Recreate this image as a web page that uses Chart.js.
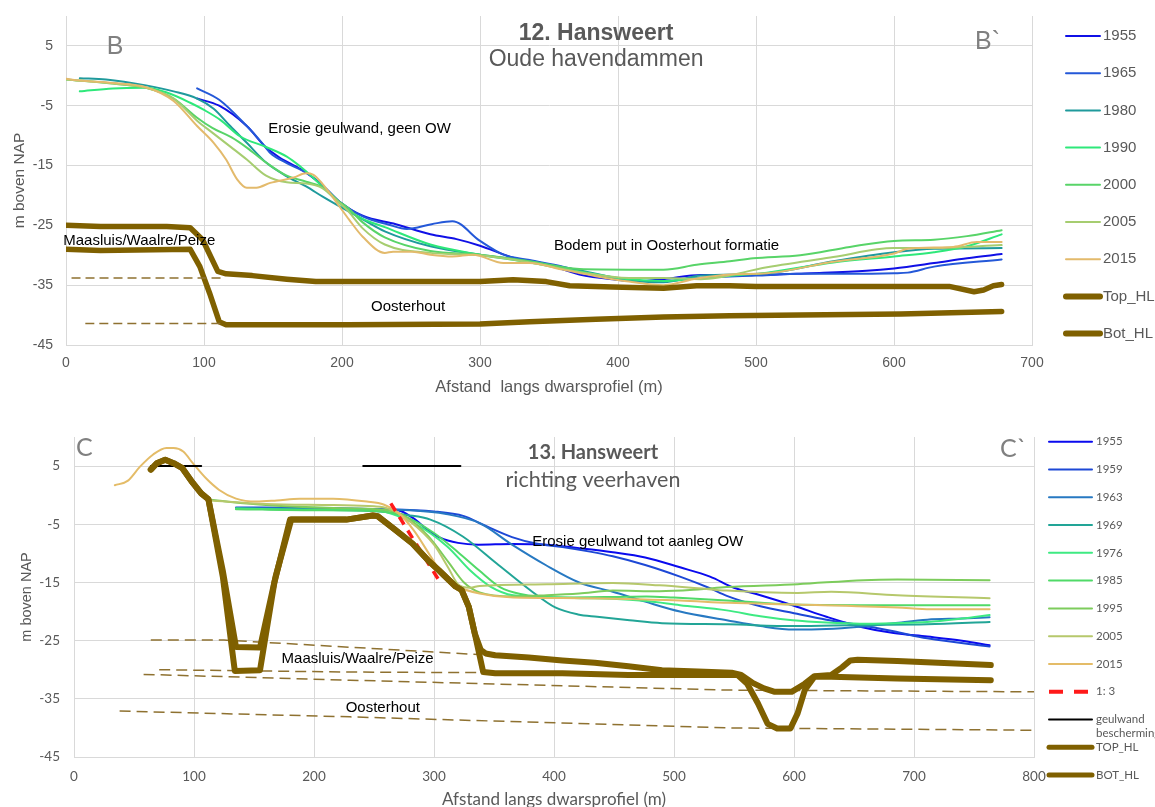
<!DOCTYPE html>
<html>
<head>
<meta charset="utf-8">
<script src="https://cdn.jsdelivr.net/npm/chart.js@4.4.1/dist/chart.umd.min.js"></script>
<style>
  html, body { margin: 0; padding: 0; background: #fff; }
  #wrap { position: relative; width: 1155px; height: 807px; overflow: hidden; }
  .panel { position: absolute; left: 0; width: 1155px; }
  #p1 { top: 0; height: 405px; }
  #p2 { top: 405px; height: 410px; }
  canvas { display: block; }
</style>
</head>
<body>
<div id="wrap">
  <div class="panel" id="p1"><canvas id="c1" width="1155" height="405"></canvas></div>
  <div class="panel" id="p2"><canvas id="c2" width="1155" height="410"></canvas></div>
</div>
<script>
// ---------- Profile 12: Hansweert, oude havendammen (afstand m, hoogte m NAP) ----------
const yTicks = [-45, -35, -25, -15, -5, 5];

const t1955 = [[95,-3.8],[111,-5],[131,-8.4],[145,-12],[155,-13.7],[170,-15.6],[184,-17.9],[198,-21],[215,-23.4],[239,-24.8],[264,-26.5],[283,-27.3],[300,-28.4],[324,-30.4],[348,-31.5],[372,-33.2],[396,-34],[416,-34.3],[433,-34],[460,-33.3],[500,-33.3],[540,-33.0],[580,-32.6],[600,-32.2],[629,-31.3],[653,-30.5],[678,-29.8]];
const t1965 = [[95,-2.1],[111,-4],[131,-8.4],[142,-11.2],[148,-12.9],[160,-14.6],[174,-16.2],[189,-19],[198,-21],[215,-23.5],[234,-24.9],[247,-25.6],[265,-24.8],[280,-24.3],[300,-27.6],[317,-29.9],[336,-30.8],[360,-31.9],[384,-33.3],[408,-34.3],[433,-34.3],[457,-33.8],[500,-33.4],[532,-33.1],[568,-33.1],[600,-33.0],[610,-32.9],[629,-31.9],[678,-30.7]];
const t1980 = [[10,-0.4],[29,-0.6],[58,-1.6],[78,-2.6],[95,-3.8],[107,-5.5],[119,-8.4],[131,-11.2],[145,-14.5],[160,-16.8],[174,-18.5],[186,-20.2],[198,-21.8],[215,-24],[231,-26],[264,-28.5],[300,-29.9],[336,-31],[372,-32.5],[408,-34.2],[433,-34.5],[460,-33.4],[508,-33],[556,-31],[600,-29.5],[629,-28.9],[678,-28.8]];
const t1990 = [[10,-2.6],[34,-2.1],[58,-2.0],[73,-2.8],[90,-4.5],[100,-5.7],[112,-7.4],[126,-10.1],[145,-11.9],[160,-13.5],[170,-15.2],[179,-17],[190,-19.5],[204,-22.4],[215,-23.9],[231,-25.3],[264,-28.2],[300,-29.9],[336,-31.2],[372,-32.7],[408,-34],[433,-34.3],[460,-33.8],[508,-32.9],[556,-31.2],[600,-30.2],[629,-29.5],[653,-28.5],[678,-26.5]];
const t2000 = [[0,-0.6],[34,-1.3],[58,-2],[78,-3.8],[95,-7],[106,-8.7],[120,-10.3],[131,-12],[145,-14.5],[160,-16.7],[174,-17.7],[186,-18.6],[198,-21],[204,-22],[215,-24.5],[231,-27],[264,-29.3],[300,-29.9],[336,-31],[372,-32.3],[408,-32.4],[433,-32.4],[457,-31.6],[481,-31],[498,-30.5],[532,-30],[568,-28.6],[600,-27.6],[629,-27.4],[653,-26.8],[678,-25.8]];
const t2005 = [[0,-0.6],[34,-1.3],[58,-2],[78,-3.8],[95,-7.5],[106,-9.5],[120,-12],[131,-14],[145,-16.7],[160,-17.8],[174,-18],[186,-18.8],[198,-21.2],[204,-22.5],[215,-25.5],[231,-28.2],[264,-29.6],[300,-30],[336,-31.2],[372,-32.8],[408,-33.8],[433,-33.8],[460,-34],[508,-32],[556,-30.3],[600,-28.8],[629,-28.8],[678,-28.3]];
const t2015 = [[0,-0.5],[10,-0.8],[34,-1.2],[58,-1.9],[78,-4.2],[95,-8.4],[107,-11.2],[116,-14],[124,-17.3],[131,-18.7],[138,-18.7],[148,-17.9],[165,-17],[174,-16.3],[179,-16.5],[186,-18.1],[198,-21.8],[205,-24],[215,-26.9],[231,-29.6],[237,-29.4],[251,-29.4],[264,-29.9],[280,-30.2],[295,-29.9],[317,-31.3],[336,-31.3],[360,-32.4],[384,-33.5],[408,-34.4],[433,-35],[457,-33.9],[481,-33.2],[508,-33],[556,-31.1],[600,-29.7],[610,-28.9],[643,-28.6],[660,-27.8],[678,-27.8]];
const tTopHL = [[0,-25],[25,-25.2],[73,-25.2],[90,-25.4],[99,-27.4],[110,-32.7],[116,-33.1],[135,-33.4],[160,-34],[181,-34.4],[204,-34.4],[300,-34.4],[324,-34.1],[348,-34.4],[365,-35.1],[396,-35.3],[433,-35.5],[457,-35.1],[481,-35.1],[500,-35.2],[600,-35.2],[640,-35.2],[658,-36.1],[665,-35.8],[672,-35.1],[678,-34.9]];
const tBotHL = [[0,-29],[25,-29.2],[90,-29],[97,-31.9],[104,-36.3],[111,-41.1],[116,-41.6],[204,-41.6],[300,-41.5],[336,-41.1],[384,-40.7],[433,-40.3],[481,-40.1],[532,-40],[605,-39.8],[678,-39.4]];
const tDashTop = [[4,-33.8],[113,-33.8]];
const tDashBot = [[14,-41.4],[112,-41.4]];

// ---------- Profile 13: Hansweert, richting veerhaven ----------
const b1955 = [[135,-2.2],[200,-2.3],[250,-2.4],[270,-2.6],[283,-4],[295,-6],[305,-7.3],[320,-8.2],[337,-8.5],[365,-8.4],[393,-8.5],[421,-9.1],[449,-9.8],[476,-10.7],[505,-12.4],[530,-14],[550,-15.9],[572,-17.2],[600,-19],[627,-20.9],[655,-22.6],[683,-23.7],[711,-24.3],[740,-25],[763,-25.8]];
const b1959 = [[135,-2.1],[200,-2.2],[250,-2.4],[300,-2.8],[325,-3.6],[340,-5],[365,-7.2],[385,-8.3],[407,-8.9],[430,-9.7],[449,-10.5],[476,-12],[505,-14],[530,-16],[544,-17.3],[572,-19.1],[600,-20.3],[627,-21.4],[655,-22.3],[683,-23.4],[711,-24.6],[763,-26]];
const b1963 = [[135,-2.2],[200,-2.3],[250,-2.4],[280,-2.6],[309,-3.2],[338,-4.8],[365,-8.5],[393,-12],[421,-15],[449,-16.6],[476,-18.3],[505,-20],[544,-21.5],[572,-22.5],[600,-23.1],[627,-23],[655,-22.6],[683,-22],[711,-21.4],[740,-21.2],[763,-21]];
const b1969 = [[135,-2.3],[200,-2.5],[255,-2.8],[277,-3.4],[297,-4.2],[324,-7.1],[352,-11.7],[380,-16.3],[401,-19.3],[420,-20.5],[436,-20.9],[463,-21.5],[490,-22],[545,-22.2],[600,-22.5],[655,-22.3],[711,-22.2],[763,-21.8]];
const b1976 = [[135,-2.3],[200,-2.5],[250,-2.6],[283,-4.8],[311,-8.8],[330,-12.9],[347,-15.7],[366,-17.2],[394,-17.5],[422,-17.7],[449,-17.8],[477,-18.2],[505,-18.9],[544,-19.8],[572,-20.8],[599,-21.5],[627,-21.9],[655,-22.1],[683,-22],[711,-21.8],[740,-21.2],[763,-20.6]];
const b1985 = [[135,-2.4],[200,-2.6],[250,-2.7],[275,-3.6],[300,-6.5],[320,-9.8],[338,-13],[355,-15.8],[372,-17],[400,-17.6],[449,-17.5],[477,-17.4],[500,-17.6],[544,-18.1],[600,-18.8],[655,-18.9],[711,-18.9],[763,-18.9]];
const b1995 = [[113,-0.8],[160,-1.7],[216,-2.2],[258,-2.5],[275,-3.5],[295,-7],[312,-11.5],[325,-15],[338,-16.7],[366,-17.4],[394,-17.2],[421,-16.9],[449,-16.4],[488,-16.5],[520,-16.2],[544,-15.8],[603,-15.3],[658,-14.6],[686,-14.5],[763,-14.6]];
const b2005 = [[113,-0.9],[160,-1.5],[216,-1.7],[250,-1.9],[262,-2.3],[280,-4.5],[300,-8.5],[312,-12.5],[320,-15.3],[330,-15.9],[338,-15.6],[394,-15.3],[449,-15.1],[488,-15.5],[520,-16],[544,-16.4],[603,-16.8],[631,-16.6],[686,-17.2],[763,-17.7]];
const b2015 = [[34,1.7],[45,2.5],[55,4.9],[66,7],[77,8.1],[83,8.1],[91,7.5],[99,5.5],[110,2.9],[121,0.9],[135,-0.6],[152,-1.1],[169,-0.9],[188,-0.6],[216,-0.6],[244,-1.1],[258,-1.6],[270,-3],[283,-6],[299,-11.1],[310,-14.5],[319,-15.7],[338,-16.9],[366,-17.6],[422,-17.7],[505,-18.1],[545,-18.5],[603,-18.8],[686,-19.3],[714,-19.6],[763,-19.6]];
const bSlope13 = [[264,-1.4],[304,-14.6]];
const bGeulwand = [[64,5],[106,5],[174,null],[241,5],[322,5]];
const bTopHL = [[64,4.4],[69,5.5],[76,6.1],[83,5.5],[90,4.7],[99,2.1],[106,0.3],[112,-0.7],[124,-13],[135,-26.1],[155,-26.2],[168,-14],[181,-4.2],[200,-4.2],[227,-4.2],[249,-3.5],[253,-3.6],[268,-6],[282,-8.3],[296,-11.4],[304,-12.9],[318,-15.7],[323,-16.3],[329,-19.2],[334,-23.8],[339,-26.6],[343,-27.2],[351,-27.5],[379,-27.9],[407,-28.4],[434,-28.8],[462,-29.4],[490,-30.1],[520,-30.3],[548,-30.5],[556,-30.9],[566,-32.3],[575,-33.2],[584,-33.8],[598,-33.8],[609,-32.4],[617,-31.1],[631,-30.9],[640,-29.6],[647,-28.4],[653,-28.3],[686,-28.5],[764,-29.2]];
const bBotHL = [[64,4.4],[69,5.5],[76,6.1],[83,5.5],[90,4.7],[99,2.1],[106,0.3],[112,-0.7],[124,-14],[134,-30.2],[155,-30.1],[167,-15],[180,-4.2],[200,-4.2],[227,-4.2],[249,-3.5],[253,-3.6],[268,-6],[282,-8.3],[296,-11.4],[304,-12.9],[318,-15.7],[323,-16.3],[329,-19.2],[334,-23.8],[341,-30.4],[351,-30.6],[407,-30.6],[462,-30.9],[518,-30.9],[553,-30.9],[561,-32.4],[570,-35.8],[578,-39.3],[586,-40.1],[597,-40.1],[603,-37.5],[609,-33.5],[617,-31.2],[631,-31.2],[686,-31.5],[764,-31.8]];
const bDash1 = [[64,-24.9],[125,-24.9],[338,-27.4]];
const bDash2 = [[71,-30],[230,-30.4],[338,-30.5]];
const bDash3 = [[58,-30.8],[230,-31.8],[545,-33.5],[800,-33.8]];
const bDash4 = [[38,-37.1],[230,-38.1],[545,-40],[800,-40.4]];

// ---------- helpers ----------
const GREY = '#595959';
const GRID = '#d9d9d9';
const HL = '#7F6000';
const DASH = '#8E7130';

function line(label, pts, color, width, extra) {
  return Object.assign({
    label,
    data: pts.map(([x, y]) => ({ x, y })),
    borderColor: color,
    backgroundColor: color,
    borderWidth: width,
    pointRadius: 0,
    fill: false,
    tension: 0,
    borderJoinStyle: 'round',
    borderCapStyle: 'round'
  }, extra || {});
}
const smooth = { cubicInterpolationMode: 'monotone' };

// Text notes (data coordinates) and a side legend drawn beside the plot
const notesPlugin = {
  id: 'notes',
  afterDraw(chart, args, opts) {
    const { ctx } = chart;
    const xs = chart.scales.x, ys = chart.scales.y;
    ctx.save();
    (opts.items || []).forEach(n => {
      ctx.font = n.font;
      ctx.fillStyle = n.color;
      ctx.textAlign = n.align || 'left';
      ctx.textBaseline = 'alphabetic';
      ctx.fillText(n.text, xs.getPixelForValue(n.x), ys.getPixelForValue(n.y));
    });
    const L = opts.legend;
    if (L) {
      chart.data.datasets.forEach(ds => {
        if (ds.legendRow === undefined) return;
        const cy = L.y0 + ds.legendRow * L.dy;
        ctx.beginPath();
        ctx.strokeStyle = ds.borderColor;
        ctx.lineWidth = ds.legendWidth || ds.borderWidth;
        ctx.lineCap = ds.legendDash ? 'butt' : 'round';
        ctx.setLineDash(ds.legendDash || []);
        ctx.moveTo(L.x0, cy);
        ctx.lineTo(L.x1, cy);
        ctx.stroke();
        ctx.setLineDash([]);
        ctx.font = L.font;
        ctx.fillStyle = L.color;
        ctx.textAlign = 'left';
        ctx.textBaseline = 'middle';
        const lines = Array.isArray(ds.label) ? ds.label : [ds.label];
        lines.forEach((t, k) => ctx.fillText(t, L.tx, cy + k * L.lineGap));
      });
    }
    ctx.restore();
  }
};

function scales(cfg) {
  return {
    x: {
      type: 'linear', min: 0, max: cfg.xMax,
      ticks: { stepSize: 100, color: GREY, font: cfg.tickFont, padding: cfg.xTickPad },
      grid: { color: GRID, lineWidth: 1, drawTicks: false },
      border: { color: GRID },
      title: { display: true, text: cfg.xTitle, color: GREY, font: cfg.xTitleFont, padding: { top: 0, bottom: cfg.xTitlePad } },
      afterFit(s) { s.height = cfg.xHeight; }
    },
    y: {
      type: 'linear', min: -45, max: 10,
      afterBuildTicks(s) { s.ticks = yTicks.map(v => ({ value: v })); },
      ticks: { color: GREY, font: cfg.tickFont, padding: cfg.yTickPad },
      grid: { color: GRID, lineWidth: 1, drawTicks: false },
      border: { color: GRID },
      title: { display: true, text: 'm boven NAP', color: GREY, font: cfg.yTitleFont, padding: { top: cfg.yTitlePad, bottom: 0 } },
      // plot edges are set by the layout padding, not by the tick label overhang
      afterFit(s) { s.width = cfg.yWidth; s.paddingTop = 0; s.paddingBottom = 0; }
    }
  };
}

// ---------- chart 12 ----------
const topSets = [
  line('1955', t1955, '#1010E6', 2, smooth),
  line('1965', t1965, '#2458D8', 2, smooth),
  line('1980', t1980, '#1F9A9C', 2, smooth),
  line('1990', t1990, '#2EE87A', 2, smooth),
  line('2000', t2000, '#58D468', 2, smooth),
  line('2005', t2005, '#A6CD70', 2, smooth),
  line('2015', t2015, '#E3BA6C', 2, smooth),
  line('Top_HL', tTopHL, HL, 5.5),
  line('Bot_HL', tBotHL, HL, 5.5),
  line('', tDashTop, DASH, 1.5, { borderDash: [9, 5], borderCapStyle: 'butt' }),
  line('', tDashBot, DASH, 1.5, { borderDash: [9, 5], borderCapStyle: 'butt' })
];
topSets.forEach((d, i) => { d.order = -i; if (i < 9) d.legendRow = i; });
topSets[7].legendWidth = 6; topSets[8].legendWidth = 6;

const A15 = '15px "Liberation Sans"';
new Chart(document.getElementById('c1'), {
  type: 'line',
  data: { datasets: topSets },
  plugins: [notesPlugin],
  options: {
    responsive: false, animation: false, events: [],
    layout: { padding: { left: 0, top: 16, right: 123, bottom: 0 } },
    plugins: {
      legend: { display: false }, tooltip: { enabled: false },
      notes: {
        items: [
          { text: '12. Hansweert', x: 384.1, y: 6.0, font: 'bold 23px "Liberation Sans"', color: GREY, align: 'center' },
          { text: 'Oude havendammen', x: 384.1, y: 1.6, font: '23px "Liberation Sans"', color: GREY, align: 'center' },
          { text: 'B', x: 29.5, y: 3.6, font: '25px "Liberation Sans"', color: '#808080' },
          { text: 'B`', x: 658.7, y: 4.45, font: '25px "Liberation Sans"', color: '#808080' },
          { text: 'Erosie geulwand, geen OW', x: 146.6, y: -9.5, font: A15, color: '#000' },
          { text: 'Maasluis/Waalre/Peize', x: -2, y: -28.2, font: A15, color: '#000' },
          { text: 'Bodem put in Oosterhout formatie', x: 353.6, y: -29.2, font: A15, color: '#000' },
          { text: 'Oosterhout', x: 221, y: -39.25, font: A15, color: '#000' }
        ],
        legend: { x0: 1066, x1: 1100, tx: 1103, y0: 36, dy: 37.2, lineGap: 14, font: '15px "Liberation Sans"', color: GREY }
      }
    },
    scales: scales({
      xMax: 700, xTitle: 'Afstand  langs dwarsprofiel (m)',
      tickFont: { family: 'Liberation Sans', size: 14 },
      xTitleFont: { family: 'Liberation Sans', size: 16.5 },
      yTitleFont: { family: 'Liberation Sans', size: 15.5 },
      xTickPad: 10, xTitlePad: 8, xHeight: 60,
      yTickPad: 13, yTitlePad: 10, yWidth: 66
    })
  }
});

// ---------- chart 13 ----------
const botSets = [
  line('1955', b1955, '#0A0AEE', 2, smooth),
  line('1959', b1959, '#1D48D6', 2, smooth),
  line('1963', b1963, '#2779C2', 2, smooth),
  line('1969', b1969, '#22A597', 2, smooth),
  line('1976', b1976, '#3EEA82', 2, smooth),
  line('1985', b1985, '#50DA68', 2, smooth),
  line('1995', b1995, '#7DCC5C', 2, smooth),
  line('2005', b2005, '#B6C86C', 2, smooth),
  line('2015', b2015, '#E4BC68', 2, smooth),
  line('1: 3', bSlope13, '#FF1A1A', 3.5, { borderDash: [9, 7], borderCapStyle: 'butt', legendDash: [14, 11], legendWidth: 4 }),
  line(['geulwand', 'bescherming'], bGeulwand, '#000000', 2),
  line('TOP_HL', bTopHL, HL, 6, { legendWidth: 5 }),
  line('BOT_HL', bBotHL, HL, 6, { legendWidth: 5 }),
  line('', bDash1, DASH, 1.5, { borderDash: [11, 6], borderCapStyle: 'butt' }),
  line('', bDash2, DASH, 1.5, { borderDash: [11, 6], borderCapStyle: 'butt' }),
  line('', bDash3, DASH, 1.5, { borderDash: [11, 6], borderCapStyle: 'butt' }),
  line('', bDash4, DASH, 1.5, { borderDash: [11, 6], borderCapStyle: 'butt' })
];
botSets.forEach((d, i) => { d.order = -i; if (i < 13) d.legendRow = i; });
// keep the geological boundaries underneath the profiles
for (let i = 13; i < botSets.length; i++) botSets[i].order = 10;

new Chart(document.getElementById('c2'), {
  type: 'line',
  data: { datasets: botSets },
  plugins: [notesPlugin],
  options: {
    responsive: false, animation: false, events: [],
    layout: { padding: { left: 0, top: 32, right: 121, bottom: 0 } },
    plugins: {
      legend: { display: false }, tooltip: { enabled: false },
      notes: {
        items: [
          { text: '13. Hansweert', x: 432.5, y: 6.26, font: 'bold 20px Lato', color: GREY, align: 'center' },
          { text: 'richting veerhaven', x: 432.5, y: 1.49, font: '21.5px Lato', color: GREY, align: 'center' },
          { text: 'C', x: 1.7, y: 6.65, font: '25px Lato', color: '#808080' },
          { text: 'C`', x: 771.7, y: 6.5, font: '25px Lato', color: '#808080' },
          { text: 'Erosie geulwand tot aanleg OW', x: 381.9, y: -8.72, font: A15, color: '#000' },
          { text: 'Maasluis/Waalre/Peize', x: 173, y: -28.9, font: A15, color: '#000' },
          { text: 'Oosterhout', x: 226.4, y: -37.2, font: A15, color: '#000' }
        ],
        legend: { x0: 1049, x1: 1092, tx: 1096, y0: 36.7, dy: 27.78, lineGap: 14, font: '11.5px Lato', color: GREY }
      }
    },
    scales: scales({
      xMax: 800, xTitle: 'Afstand langs dwarsprofiel (m)',
      tickFont: { family: 'Lato', size: 13.5 },
      xTitleFont: { family: 'Lato', size: 17 },
      yTitleFont: { family: 'Liberation Sans', size: 14.5 },
      xTickPad: 12, xTitlePad: 5, xHeight: 58,
      yTickPad: 14, yTitlePad: 18, yWidth: 74
    })
  }
});
</script>
</body>
</html>
